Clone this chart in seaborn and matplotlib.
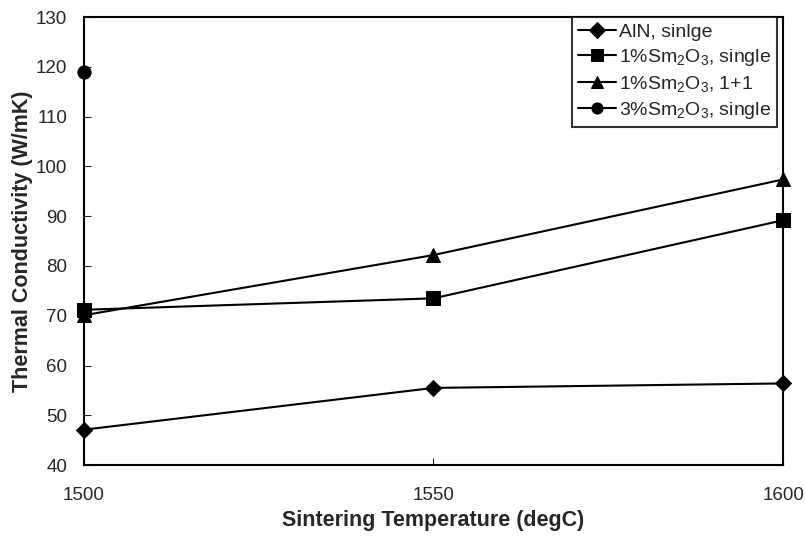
import matplotlib
matplotlib.use("Agg")
import matplotlib.pyplot as plt
import seaborn as sns
import pandas as pd

temps = [1500, 1550, 1600]
aln_single = [47.1, 55.5, 56.4]
sm1_single = [71.2, 73.5, 89.2]
sm1_1p1 = [70.1, 82.2, 97.4]
sm3_single = [118.9]

labels = ["AlN, sinlge",
          "1%Sm$_2$O$_3$, single",
          "1%Sm$_2$O$_3$, 1+1",
          "3%Sm$_2$O$_3$, single"]

rows = []
for lab, vals in zip(labels, [aln_single, sm1_single, sm1_1p1, sm3_single]):
    for t, v in zip(temps, vals):
        rows.append({"temp": t, "value": v, "series": lab})
df = pd.DataFrame(rows)

sns.set_style("white")
plt.rcParams['font.family'] = ['Liberation Sans', 'DejaVu Sans']
plt.rcParams['mathtext.fontset'] = 'custom'
plt.rcParams['mathtext.rm'] = 'Liberation Sans'
plt.rcParams['mathtext.it'] = 'Liberation Sans'
plt.rcParams['mathtext.default'] = 'regular'

fig = plt.figure(figsize=(8.05, 5.37), dpi=100)
ax = fig.add_axes([0.104, 0.134, 0.869, 0.834])

sns.lineplot(data=df, x="temp", y="value", hue="series", style="series",
             hue_order=labels, style_order=labels,
             palette=["black"] * 4, markers=["D", "s", "^", "o"],
             dashes=False, linewidth=1.5, markersize=10,
             markeredgecolor="black", ax=ax)
# diamonds look bigger than the rest at the same size
sizes = [8.5, 9.5, 10, 9.5]
for ln, ms in zip(ax.lines, sizes):
    ln.set_clip_on(False)
    ln.set_zorder(5)
    ln.set_markersize(ms)

ax.set_xlim(1500, 1600)
ax.set_ylim(40, 130)
ax.set_xticks(temps)
ax.set_yticks(range(40, 131, 10))
ax.tick_params(axis='x', direction='in', length=5, pad=16, labelsize=13.5)
ax.tick_params(axis='y', direction='in', length=5, pad=12, labelsize=13.5)
ax.tick_params(left=True, bottom=True)
for s in ax.spines.values():
    s.set_color("black")
    s.set_linewidth(1.5)

ax.set_xlabel("Sintering Temperature (degC)", fontsize=15.5, fontweight="bold", labelpad=4)
ax.set_ylabel("Thermal Conductivity (W/mK)", fontsize=15.5, fontweight="bold", labelpad=2)

leg = ax.legend(loc="upper right", bbox_to_anchor=(1 - 6 / 699, 1.0),
                fontsize=14, frameon=True, fancybox=False, markerscale=0.8,
                borderaxespad=0.0, handlelength=2.0, handletextpad=0.15,
                labelspacing=0.32, borderpad=0.3)
leg.get_frame().set_edgecolor("black")
leg.get_frame().set_linewidth(1.5)

fig.savefig("out.png", dpi=100)
